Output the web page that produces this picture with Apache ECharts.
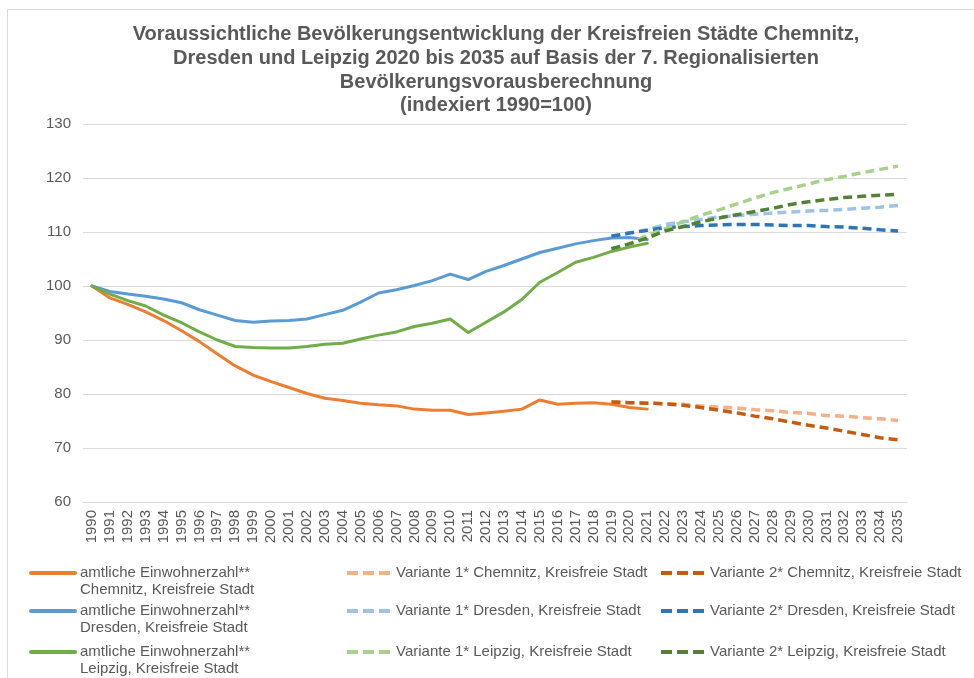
<!DOCTYPE html>
<html>
<head>
<meta charset="utf-8">
<script src="https://cdn.jsdelivr.net/npm/echarts@6/dist/echarts.min.js"></script>
<style>
    html, body { margin: 0; padding: 0; background: #fff; }
    #chart { width: 974px; height: 678px; }
</style>
</head>
<body>
<div id="chart"></div>
<script>
// Jahre (Kategorien)
const years = ['1990', '1991', '1992', '1993', '1994', '1995', '1996', '1997', '1998', '1999',
    '2000', '2001', '2002', '2003', '2004', '2005', '2006', '2007', '2008', '2009',
    '2010', '2011', '2012', '2013', '2014', '2015', '2016', '2017', '2018', '2019',
    '2020', '2021', '2022', '2023', '2024', '2025', '2026', '2027', '2028', '2029',
    '2030', '2031', '2032', '2033', '2034', '2035'];

// amtliche Einwohnerzahl 1990 - 2021
const chemnitzIst = [100, 97.8, 96.6, 95.2, 93.6, 91.7, 89.7, 87.4, 85.2, 83.5,
    82.3, 81.2, 80.1, 79.2, 78.8, 78.3, 78.0, 77.8, 77.2, 77.0,
    77.0, 76.2, 76.5, 76.8, 77.2, 78.9, 78.1, 78.3, 78.4, 78.1, 77.5, 77.2];
const dresdenIst = [100, 99.0, 98.5, 98.1, 97.6, 96.9, 95.6, 94.6, 93.6, 93.3,
    93.5, 93.6, 93.9, 94.7, 95.5, 97.0, 98.7, 99.3, 100.1, 101.0,
    102.2, 101.2, 102.7, 103.8, 105.0, 106.2, 107.0, 107.8, 108.4, 108.9, 109.0, 108.6];
const leipzigIst = [100, 98.5, 97.3, 96.3, 94.6, 93.2, 91.5, 90.0, 88.8, 88.6,
    88.5, 88.5, 88.8, 89.2, 89.4, 90.2, 90.9, 91.5, 92.5, 93.1,
    93.9, 91.4, 93.3, 95.2, 97.5, 100.7, 102.5, 104.4, 105.3, 106.4, 107.2, 107.9];

// Varianten 2019 - 2035
const chemnitzV1 = [78.5, 78.4, 78.3, 78.2, 78.1, 77.8, 77.6, 77.4, 77.1, 76.9, 76.6, 76.4, 76.0, 75.9, 75.6, 75.4, 75.1];
const chemnitzV2 = [78.5, 78.4, 78.3, 78.2, 77.9, 77.5, 77.0, 76.5, 75.9, 75.4, 74.8, 74.2, 73.7, 73.1, 72.5, 71.9, 71.5];
const dresdenV1 = [109.2, 109.8, 110.4, 111.4, 111.9, 112.3, 112.8, 113.0, 113.3, 113.5, 113.7, 113.9, 114.0, 114.2, 114.4, 114.6, 114.9];
const dresdenV2 = [109.2, 109.8, 110.3, 110.8, 111.0, 111.2, 111.3, 111.4, 111.4, 111.3, 111.2, 111.2, 111.0, 110.9, 110.7, 110.4, 110.2];
const leipzigV1 = [106.9, 107.8, 109.4, 110.6, 111.9, 113.1, 114.1, 115.2, 116.3, 117.3, 118.1, 118.9, 119.7, 120.3, 121.0, 121.6, 122.2];
const leipzigV2 = [106.9, 107.8, 108.9, 110.2, 111.0, 111.9, 112.6, 113.2, 113.8, 114.4, 115.1, 115.6, 116.0, 116.4, 116.6, 116.8, 117.0];

const yTicks = [60, 70, 80, 90, 100, 110, 120, 130];

const FONT = '"Liberation Sans", Arial, sans-serif';
const GREY = '#595959';

// Ist-Werte hinten mit null auffüllen, Varianten vorne
function ist(values) {
    return values.concat(new Array(years.length - values.length).fill(null));
}
function variante(values) {
    return new Array(years.length - values.length).fill(null).concat(values);
}

function solid(name, color, values) {
    return {
        name: name,
        type: 'line',
        data: ist(values),
        symbol: 'none',
        lineStyle: { color: color, width: 3, cap: 'round', join: 'round' },
        itemStyle: { color: color },
    };
}
function dashed(name, color, values) {
    return {
        name: name,
        type: 'line',
        data: variante(values),
        symbol: 'none',
        lineStyle: { color: color, width: 3.5, type: [9, 5] },
        itemStyle: { color: color },
    };
}

const names = {
    cIst: 'amtliche Einwohnerzahl**\nChemnitz, Kreisfreie Stadt',
    dIst: 'amtliche Einwohnerzahl**\nDresden, Kreisfreie Stadt',
    lIst: 'amtliche Einwohnerzahl**\nLeipzig, Kreisfreie Stadt',
    c1: 'Variante 1* Chemnitz, Kreisfreie Stadt',
    c2: 'Variante 2* Chemnitz, Kreisfreie Stadt',
    d1: 'Variante 1* Dresden, Kreisfreie Stadt',
    d2: 'Variante 2* Dresden, Kreisfreie Stadt',
    l1: 'Variante 1* Leipzig, Kreisfreie Stadt',
    l2: 'Variante 2* Leipzig, Kreisfreie Stadt',
};

// Legende: ein Eintrag pro Komponente, damit die Positionen passen
const rowY = [573, 611, 652];
function legendItem(name, left, row, twoLines) {
    return {
        data: [name],
        left: left,
        top: twoLines ? rowY[row] - 25.5 : rowY[row] - 8.5,
        padding: 0,
        itemWidth: 44,
        itemHeight: 14,
        selectedMode: false,
        itemStyle: { opacity: 0 },
        lineStyle: twoLines ? { width: 4 } : { width: 4, type: [11, 5] },
        // leere erste Zeile, damit die erste Textzeile auf Höhe des Symbols liegt
        formatter: twoLines ? function (n) { return '\n' + n; } : '{name}',
        textStyle: {
            fontFamily: FONT, fontSize: 15, color: GREY, lineHeight: 17
        },
    };
}

const chart = echarts.init(document.getElementById('chart'));
chart.setOption({
    animation: false,
    graphic: [
        {
            type: 'polyline',
            shape: { points: [[7.5, 678], [7.5, 9.5], [974, 9.5]] },
            style: { stroke: '#d9d9d9', lineWidth: 1, fill: null },
            silent: true,
        },
        {
            type: 'text',
            style: {
                x: 496, y: 23,
                align: 'center', verticalAlign: 'top',
                text: 'Voraussichtliche Bevölkerungsentwicklung der Kreisfreien Städte Chemnitz,\n'
                    + 'Dresden und Leipzig 2020 bis 2035 auf Basis der 7. Regionalisierten\n'
                    + 'Bevölkerungsvorausberechnung\n(indexiert 1990=100)',
                font: 'bold 20px ' + FONT,
                lineHeight: 23.7,
                fill: GREY,
            },
            silent: true,
        }
    ],
    grid: {
        left: 83,
        right: 67,
        top: 124,
        bottom: 176,
    },
    legend: [
        legendItem(names.cIst, 29, 0, true),
        legendItem(names.dIst, 29, 1, true),
        legendItem(names.lIst, 29, 2, true),
        legendItem(names.c1, 345, 0, false),
        legendItem(names.d1, 345, 1, false),
        legendItem(names.l1, 345, 2, false),
        legendItem(names.c2, 659, 0, false),
        legendItem(names.d2, 659, 1, false),
        legendItem(names.l2, 659, 2, false),
    ],
    xAxis: {
        type: 'category',
        data: years,
        boundaryGap: true,
        axisTick: { show: false },
        axisLine: { lineStyle: { color: '#d9d9d9', width: 1 } },
        axisLabel: {
            interval: 0,
            rotate: 90,
            margin: 8,
            fontFamily: FONT,
            fontSize: 15,
            color: GREY,
        },
    },
    yAxis: {
        type: 'value',
        min: yTicks[0],
        max: yTicks[yTicks.length - 1],
        interval: 10,
        axisLine: { show: false },
        axisTick: { show: false },
        axisLabel: {
            margin: 12,
            fontFamily: FONT,
            fontSize: 15,
            color: GREY,
        },
        splitLine: {
            lineStyle: { color: '#d9d9d9', width: 1 }
        },
    },
    series: [
        solid(names.cIst, '#ed7d31', chemnitzIst),
        solid(names.dIst, '#5b9bd5', dresdenIst),
        solid(names.lIst, '#70ad47', leipzigIst),
        dashed(names.c1, '#f4b183', chemnitzV1),
        dashed(names.c2, '#c55a11', chemnitzV2),
        dashed(names.d1, '#9dc3e6', dresdenV1),
        dashed(names.d2, '#2e75b6', dresdenV2),
        dashed(names.l1, '#a9d18e', leipzigV1),
        dashed(names.l2, '#548235', leipzigV2),
    ],
});
</script>
</body>
</html>
